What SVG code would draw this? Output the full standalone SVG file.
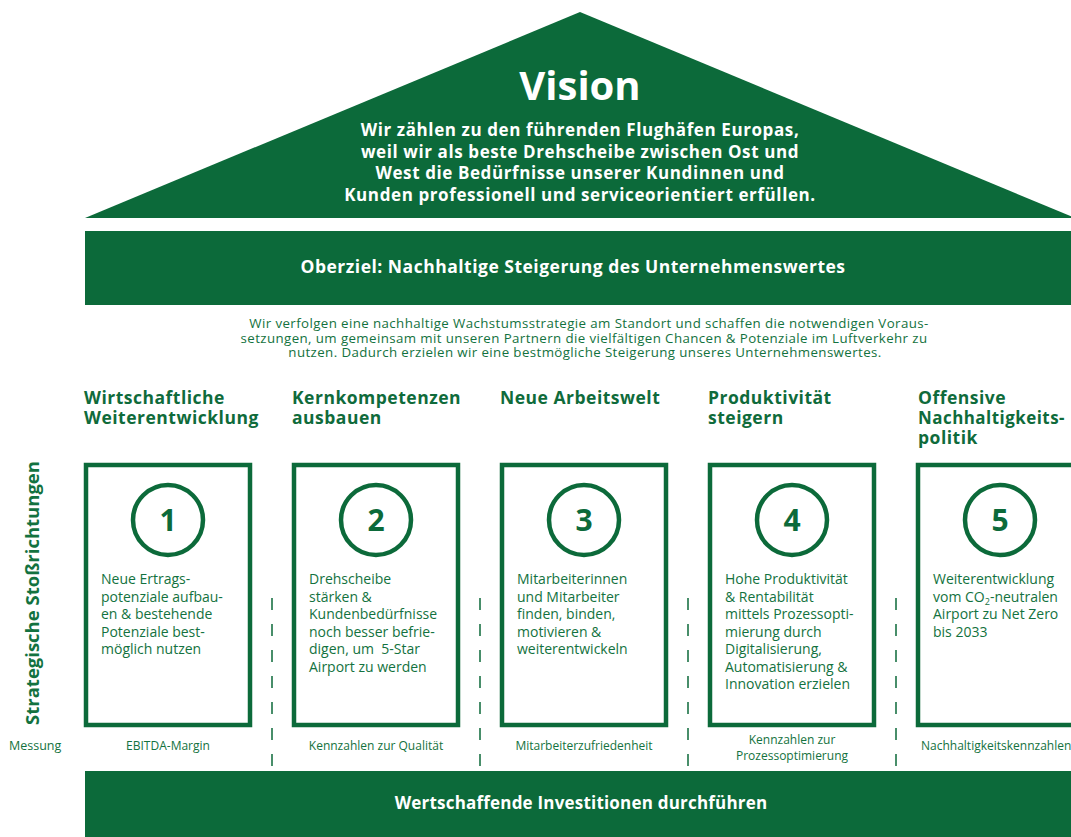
<svg xmlns="http://www.w3.org/2000/svg" width="1071" height="837" viewBox="0 0 1071 837">
<style>
.fillg{fill:#0c6a3a}
.wt{fill:#ffffff;font-family:"Open Sans","Liberation Sans",sans-serif;font-weight:700;text-anchor:middle}
.hd{fill:#0f6b3b;font-family:"Open Sans","Liberation Sans",sans-serif;font-weight:700;font-size:17.5px;letter-spacing:0.5px}
.bt{fill:#137240;font-family:"Open Sans","Liberation Sans",sans-serif;font-size:14px}
.pt{fill:#137240;font-family:"Open Sans","Liberation Sans",sans-serif;font-size:13.3px;letter-spacing:0.4px;text-anchor:middle}
.ms{fill:#137240;font-family:"Open Sans","Liberation Sans",sans-serif;font-size:12px;text-anchor:middle}
.mss{fill:#137240;font-family:"Open Sans","Liberation Sans",sans-serif;font-size:12px;text-anchor:start}
.box{fill:none;stroke:#0c6a3a;stroke-width:4.5}
.circ{fill:none;stroke:#0c6a3a;stroke-width:4.5}
.num{fill:#0c6a3a;font-family:"Open Sans","Liberation Sans",sans-serif;font-weight:700;font-size:30px;text-anchor:middle}
.dash{stroke:#0c6a3a;stroke-width:1.5;stroke-dasharray:12 14;fill:none}
</style>

<g id="vision">
  <polygon class="fillg" points="580,12 85,218 1075,218"/>
  <text class="wt" x="580" y="100" font-size="40">Vision</text>
  <text class="wt" x="580" y="136" font-size="17" letter-spacing="0.6">Wir zählen zu den führenden Flughäfen Europas,</text>
  <text class="wt" x="580" y="157.5" font-size="17" letter-spacing="0.6">weil wir als beste Drehscheibe zwischen Ost und</text>
  <text class="wt" x="580" y="179" font-size="17" letter-spacing="0.6">West die Bedürfnisse unserer Kundinnen und</text>
  <text class="wt" x="580" y="200.5" font-size="17" letter-spacing="0.6">Kunden professionell und serviceorientiert erfüllen.</text>
</g>

<g id="oberziel">
  <rect class="fillg" x="85" y="231" width="986" height="74"/>
  <text class="wt" x="573" y="273" font-size="17.5" letter-spacing="0.5">Oberziel: Nachhaltige Steigerung des Unternehmenswertes</text>
</g>

<g id="strategie-text">
  <text class="pt" x="589" y="328">Wir verfolgen eine nachhaltige Wachstumsstrategie am Standort und schaffen die notwendigen Voraus-</text>
  <text class="pt" x="584" y="342.5">setzungen, um gemeinsam mit unseren Partnern die vielfältigen Chancen &amp; Potenziale im Luftverkehr zu</text>
  <text class="pt" x="585" y="357">nutzen. Dadurch erzielen wir eine bestmögliche Steigerung unseres Unternehmenswertes.</text>
</g>

<g id="stossrichtungen-label">
  <text transform="translate(39,593) rotate(-90)" text-anchor="middle" fill="#137240" font-family="'Open Sans','Liberation Sans',sans-serif" font-weight="700" font-size="18.5">Strategische Stoßrichtungen</text>
  <text x="9" y="750" fill="#137240" font-family="'Open Sans','Liberation Sans',sans-serif" font-size="12.5">Messung</text>
</g>

<g id="pillar1">
  <text class="hd" x="84" y="404">Wirtschaftliche</text>
  <text class="hd" x="84" y="424">Weiterentwicklung</text>
  <rect class="box" x="86" y="465" width="164" height="260"/>
  <circle class="circ" cx="168" cy="520" r="35"/>
  <text class="num" x="168" y="531">1</text>
  <text class="bt" x="101" y="584">Neue Ertrags-</text>
  <text class="bt" x="101" y="601.5">potenziale aufbau-</text>
  <text class="bt" x="101" y="619">en &amp; bestehende</text>
  <text class="bt" x="101" y="636.5">Potenziale best-</text>
  <text class="bt" x="101" y="654">möglich nutzen</text>
  <text class="ms" x="168" y="750">EBITDA-Margin</text>
</g>

<g id="pillar2">
  <text class="hd" x="292" y="404">Kernkompetenzen</text>
  <text class="hd" x="292" y="424">ausbauen</text>
  <rect class="box" x="294" y="465" width="164" height="260"/>
  <circle class="circ" cx="376" cy="520" r="35"/>
  <text class="num" x="376" y="531">2</text>
  <text class="bt" x="309" y="584">Drehscheibe</text>
  <text class="bt" x="309" y="601.5">stärken &amp;</text>
  <text class="bt" x="309" y="619">Kundenbedürfnisse</text>
  <text class="bt" x="309" y="636.5">noch besser befrie-</text>
  <text class="bt" x="309" y="654" xml:space="preserve">digen, um  5-Star</text>
  <text class="bt" x="309" y="671.5">Airport zu werden</text>
  <text class="ms" x="376" y="750">Kennzahlen zur Qualität</text>
</g>

<g id="pillar3">
  <text class="hd" x="500" y="404">Neue Arbeitswelt</text>
  <rect class="box" x="502" y="465" width="164" height="260"/>
  <circle class="circ" cx="584" cy="520" r="35"/>
  <text class="num" x="584" y="531">3</text>
  <text class="bt" x="517" y="584">Mitarbeiterinnen</text>
  <text class="bt" x="517" y="601.5">und Mitarbeiter</text>
  <text class="bt" x="517" y="619">finden, binden,</text>
  <text class="bt" x="517" y="636.5">motivieren &amp;</text>
  <text class="bt" x="517" y="654">weiterentwickeln</text>
  <text class="ms" x="584" y="750">Mitarbeiterzufriedenheit</text>
</g>

<g id="pillar4">
  <text class="hd" x="708" y="404">Produktivität</text>
  <text class="hd" x="708" y="424">steigern</text>
  <rect class="box" x="710" y="465" width="164" height="260"/>
  <circle class="circ" cx="792" cy="520" r="35"/>
  <text class="num" x="792" y="531">4</text>
  <text class="bt" x="725" y="584">Hohe Produktivität</text>
  <text class="bt" x="725" y="601.5">&amp; Rentabilität</text>
  <text class="bt" x="725" y="619">mittels Prozessopti-</text>
  <text class="bt" x="725" y="636.5">mierung durch</text>
  <text class="bt" x="725" y="654">Digitalisierung,</text>
  <text class="bt" x="725" y="671.5">Automatisierung &amp;</text>
  <text class="bt" x="725" y="689">Innovation erzielen</text>
  <text class="ms" x="792" y="744">Kennzahlen zur</text>
  <text class="ms" x="792" y="760">Prozessoptimierung</text>
</g>

<g id="pillar5">
  <text class="hd" x="918" y="404">Offensive</text>
  <text class="hd" x="918" y="424" textLength="147" lengthAdjust="spacingAndGlyphs">Nachhaltigkeits-</text>
  <text class="hd" x="918" y="444">politik</text>
  <rect class="box" x="918" y="465" width="164" height="260"/>
  <circle class="circ" cx="1000" cy="520" r="35"/>
  <text class="num" x="1000" y="531">5</text>
  <text class="bt" x="933" y="584">Weiterentwicklung</text>
  <text class="bt" x="933" y="601.5">vom CO<tspan dy="3" font-size="9">2</tspan><tspan dy="-3">-neutralen</tspan></text>
  <text class="bt" x="933" y="619">Airport zu Net Zero</text>
  <text class="bt" x="933" y="636.5">bis 2033</text>
  <text class="mss" x="921" y="750">Nachhaltigkeitskennzahlen</text>
</g>

<g id="connectors">
  <line class="dash" x1="272" y1="598" x2="272" y2="766"/>
  <line class="dash" x1="480" y1="598" x2="480" y2="766"/>
  <line class="dash" x1="688" y1="598" x2="688" y2="766"/>
  <line class="dash" x1="896" y1="598" x2="896" y2="766"/>
</g>

<g id="investitionen">
  <rect class="fillg" x="85" y="771" width="986" height="66"/>
  <text class="wt" x="581" y="809" font-size="17" letter-spacing="0.2">Wertschaffende Investitionen durchführen</text>
</g>
</svg>
